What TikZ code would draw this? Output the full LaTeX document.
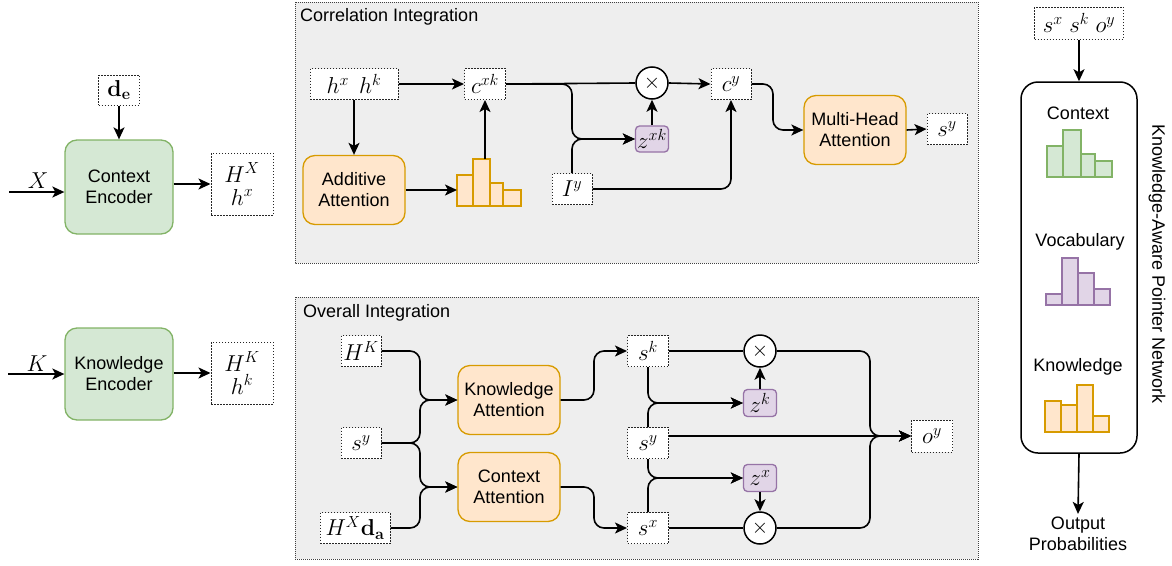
\RequirePackage{fix-cm}
\documentclass[tikz,border=0pt]{standalone}
\usepackage[no-math]{fontspec}
\setmainfont{Liberation Sans}
\usetikzlibrary{arrows.meta}
\definecolor{gfill}{HTML}{D5E8D4}
\definecolor{gline}{HTML}{82B366}
\definecolor{ofill}{HTML}{FFE6CC}
\definecolor{oline}{HTML}{D79B00}
\definecolor{pfill}{HTML}{E1D5E7}
\definecolor{pline}{HTML}{9673A6}
\definecolor{panelfill}{HTML}{EEEEEE}
\tikzset{
  txt/.style={font=\fontsize{18}{21}\selectfont},
  mth/.style={font=\fontsize{23}{26}\selectfont},
  sz/.style 2 args={minimum width=#1pt, minimum height=#2pt},
  ln/.style={line width=1.6pt, rounded corners=10pt},
  arr/.style={ln, -{Stealth[length=12pt,width=11pt,inset=3pt]}},
  dbox/.style={draw=black!85, line width=1pt, dash pattern=on 1.5pt off 1.5pt, fill=white, inner sep=0pt, mth, align=center},
  gbox/.style={draw=gline, fill=gfill, line width=1.3pt, rounded corners=12pt, align=center, txt, inner sep=0pt},
  obox/.style={draw=oline, fill=ofill, line width=1.3pt, rounded corners=12pt, align=center, txt, inner sep=0pt},
  pbox/.style={draw=pline, fill=pfill, line width=1.3pt, rounded corners=4pt, mth, inner sep=0pt},
  mult/.style={circle, draw, line width=1.5pt, fill=white, minimum size=32pt, inner sep=0pt, font=\fontsize{21}{21}\selectfont},
  panel/.style={fill=panelfill, draw=black!75, line width=0.8pt, dash pattern=on 1pt off 1pt},
  gbar/.style={draw=gline, fill=gfill, line width=1.4pt},
  obar/.style={draw=oline, fill=ofill, line width=1.4pt},
  pbar/.style={draw=pline, fill=pfill, line width=1.4pt},
  lbl/.style={txt, inner sep=0pt},
}
\begin{document}
\begin{tikzpicture}[x=1pt,y=-1pt]
\useasboundingbox (0,0) rectangle (1172,565);

% ---------- panels ----------
\draw[panel] (295,2) rectangle (978,263);
\draw[panel] (295,297) rectangle (978,559);
\node[lbl, anchor=west] (ttl1) at (300,17) {Correlation Integration};
\node[lbl, anchor=west] (ttl2) at (303,313) {Overall Integration};

% ---------- encoders ----------
\node[dbox, sz={41}{30}] (de) at (119,90) {$\mathbf{d_e}$};
\node[gbox, sz={108}{94}] (ce) at (119,187) {Context\\Encoder};
\coordinate (xin) at (9,192);
\node[mth, inner sep=0pt] (xl) at (38,181) {$X$};
\node[dbox, sz={62}{62}] (hx) at (242,184) {$H^X$\\[-3pt]$h^x$};
\draw[arr] (de.south) -- (ce.north);
\draw[arr] (xin) -- (xin -| ce.west);
\draw[arr] (hx.west -| ce.east) -- (hx.west);

\node[gbox, sz={108}{92}] (ke) at (119,374) {Knowledge\\Encoder};
\coordinate (kin) at (8,374);
\node[mth, inner sep=0pt] (kl) at (37,364) {$K$};
\node[dbox, sz={62}{62}] (hk) at (242,373) {$H^K$\\[-3pt]$h^k$};
\draw[arr] (kin) -- (kin -| ke.west);
\draw[arr] (hk.west -| ke.east) -- (hk.west);

% ---------- correlation integration ----------
\node[dbox, sz={88}{31}] (hh) at (354,84) {$h^x\ \, h^k$};
\node[dbox, sz={41}{31}] (cxk) at (485,84) {$c^{xk}$};
\node[obox, sz={102}{69}] (add) at (354,190) {Additive\\Attention};
\draw[obar] (457,206) rectangle (473,175);
\draw[obar] (473,206) rectangle (490,159);
\draw[obar] (490,206) rectangle (503,183);
\draw[obar] (503,206) rectangle (521,190);
\coordinate (histl) at (457,190);
\coordinate (histt) at (485,159);
\node[mult] (ox1) at (652,83) {$\times$};
\node[pbox, sz={33}{26}] (zxk) at (652,139) {$z^{xk}$};
\node[dbox, sz={40}{31}] (iy) at (572,189) {$I^y$};
\node[dbox, sz={40}{31}] (cy) at (731,84) {$c^y$};
\node[obox, sz={102}{69}] (mha) at (855,130) {Multi-Head\\Attention};
\node[dbox, sz={40}{31}] (sy1) at (947,129) {$s^y$};

\draw[arr] (hh.east) -- (cxk.west);
\draw[arr] (hh.south) -- (add.north);
\draw[arr] (add.east) -- (histl);
\draw[arr] (histt) -- (cxk.south);
\draw[ln] (cxk.east) -- (ox1.west);
\draw[arr] (cxk.east) -- (572,84) -- (572,139) -- (zxk.west);
\draw[arr] (iy.north) -- (572,139) -- (zxk.west);
\draw[arr] (zxk.north) -- (ox1.south);
\draw[arr] (ox1.east) -- (cy.west);
\draw[arr] (iy.east) -- (731,189) -- (cy.south);
\draw[arr] (cy.east) -- (773,84) -- (773,130) -- (mha.west);
\draw[arr] (mha.east) -- (sy1.west);

% ---------- overall integration ----------
\node[dbox, sz={40}{31}] (HK) at (361,351) {$H^K$};
\node[dbox, sz={40}{31}] (syl) at (361,443) {$s^y$};
\node[dbox, sz={70}{31}] (hxda) at (355,528) {$H^X\mathbf{d_a}$};
\node[obox, sz={102}{69}] (katt) at (509,400) {Knowledge\\Attention};
\node[obox, sz={102}{69}] (catt) at (509,487) {Context\\Attention};
\node[dbox, sz={41}{31}] (sk) at (648,351) {$s^k$};
\node[dbox, sz={41}{31}] (sym) at (648,443) {$s^y$};
\node[dbox, sz={41}{31}] (sx) at (648,528) {$s^x$};
\node[mult] (oxk) at (760,351) {$\times$};
\node[pbox, sz={33}{27}] (zk) at (760,403) {$z^k$};
\node[pbox, sz={33}{27}] (zx) at (760,478) {$z^x$};
\node[mult] (oxx) at (760,528) {$\times$};
\node[dbox, sz={41}{32}] (oy) at (932,436) {$o^y$};

\draw[arr] (HK.east) -- (420,351) -- (420,400) -- (katt.west);
\draw[arr] (syl.east) -- (420,443) -- (420,400) -- (katt.west);
\draw[arr] (syl.east) -- (420,443) -- (420,487) -- (catt.west);
\draw[arr] (hxda.east) -- (420,528) -- (420,487) -- (catt.west);
\draw[arr] (katt.east) -- (594,400) -- (594,351) -- (sk.west);
\draw[arr] (catt.east) -- (594,487) -- (594,528) -- (sx.west);
\draw[ln] (sk.east) -- (oxk.west);
\draw[arr] (sk.south) -- (648,403) -- (zk.west);
\draw[arr] (sym.north) -- (648,403) -- (zk.west);
\draw[arr] (sym.south) -- (648,478) -- (zx.west);
\draw[arr] (sx.north) -- (648,478) -- (zx.west);
\draw[arr] (zk.north) -- (oxk.south);
\draw[arr] (zx.south) -- (oxx.north);
\draw[ln] (sx.east) -- (oxx.west);
\draw[arr] (oxk.east) -- (870,351) -- (870,436) -- (oy.west);
\draw[arr] (oxx.east) -- (870,528) -- (870,436) -- (oy.west);
\draw[arr] (sym.east |- oy.west) -- (oy.west);

% ---------- pointer network ----------
\node[dbox, sz={89}{32}] (inp) at (1079,23) {$s^x\ s^k\ o^y$};
\node[draw, line width=1.5pt, rounded corners=17pt, fill=white, sz={116}{371}] (kapn) at (1079,267.5) {};
\draw[arr] (inp.south) -- (kapn.north);
\node[lbl] (ctx) at (1078,113) {Context};
\draw[gbar] (1047,177) rectangle (1063,146);
\draw[gbar] (1063,177) rectangle (1081,130);
\draw[gbar] (1081,177) rectangle (1095,154);
\draw[gbar] (1095,177) rectangle (1112,161);
\node[lbl] (voc) at (1080,242) {Vocabulary};
\draw[pbar] (1046,305) rectangle (1062,294);
\draw[pbar] (1062,305) rectangle (1078,258);
\draw[pbar] (1078,305) rectangle (1094,273);
\draw[pbar] (1094,305) rectangle (1110,289);
\node[lbl] (kno) at (1078,367) {Knowledge};
\draw[obar] (1045,432) rectangle (1061,401);
\draw[obar] (1061,432) rectangle (1077,405);
\draw[obar] (1077,432) rectangle (1093,385);
\draw[obar] (1093,432) rectangle (1109,416);
\node[txt, align=center, inner sep=3pt] (out) at (1078,534) {Output\\Probabilities};
\draw[arr] (kapn.south) -- (out.north);
\node[lbl, rotate=-90] (vt) at (1157,264) {Knowledge-Aware Pointer Network};
\end{tikzpicture}
\end{document}
